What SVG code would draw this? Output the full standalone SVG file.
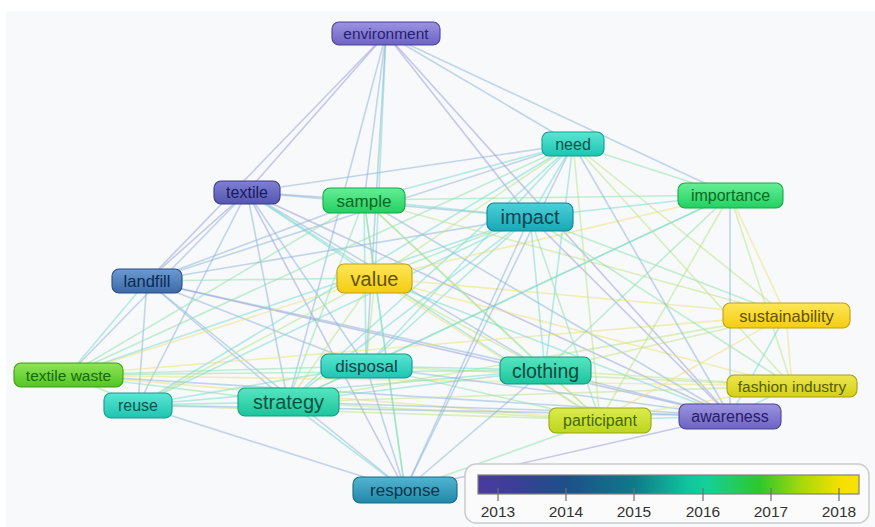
<svg xmlns="http://www.w3.org/2000/svg" width="875" height="527" viewBox="0 0 875 527">
<defs>
<style>
.e line{stroke-width:1.6;stroke-linecap:round;opacity:0.5}
.P{stroke:#959ada}.B{stroke:#8ab2da}.T{stroke:#74dacf}.G{stroke:#8ae2ac}.GY{stroke:#bae482}.Y{stroke:#ede274}
.n rect{stroke-width:1.1}
.n text{font-family:"Liberation Sans",Arial,sans-serif;text-anchor:middle}
.lg text{font-family:"Liberation Sans",Arial,sans-serif;font-size:15.5px;fill:#333;text-anchor:middle}
</style>
<linearGradient id="gPur" x1="0" y1="0" x2="0" y2="1"><stop offset="0" stop-color="#9b93e0"/><stop offset="1" stop-color="#6e63c4"/></linearGradient>
<linearGradient id="gInd" x1="0" y1="0" x2="0" y2="1"><stop offset="0" stop-color="#7f80d4"/><stop offset="1" stop-color="#5456b0"/></linearGradient>
<linearGradient id="gBlu" x1="0" y1="0" x2="0" y2="1"><stop offset="0" stop-color="#6c9ad2"/><stop offset="1" stop-color="#3c6aa6"/></linearGradient>
<linearGradient id="gStl" x1="0" y1="0" x2="0" y2="1"><stop offset="0" stop-color="#52b4d0"/><stop offset="1" stop-color="#2288a8"/></linearGradient>
<linearGradient id="gCya" x1="0" y1="0" x2="0" y2="1"><stop offset="0" stop-color="#4cd0d8"/><stop offset="1" stop-color="#18a8b6"/></linearGradient>
<linearGradient id="gTea" x1="0" y1="0" x2="0" y2="1"><stop offset="0" stop-color="#5ae6d2"/><stop offset="1" stop-color="#1ec4b2"/></linearGradient>
<linearGradient id="gTgr" x1="0" y1="0" x2="0" y2="1"><stop offset="0" stop-color="#56e6c0"/><stop offset="1" stop-color="#1cc49e"/></linearGradient>
<linearGradient id="gGrn" x1="0" y1="0" x2="0" y2="1"><stop offset="0" stop-color="#66ee96"/><stop offset="1" stop-color="#22d062"/></linearGradient>
<linearGradient id="gLim" x1="0" y1="0" x2="0" y2="1"><stop offset="0" stop-color="#8ee456"/><stop offset="1" stop-color="#52c624"/></linearGradient>
<linearGradient id="gYgr" x1="0" y1="0" x2="0" y2="1"><stop offset="0" stop-color="#dcea50"/><stop offset="1" stop-color="#bcd61c"/></linearGradient>
<linearGradient id="gOlv" x1="0" y1="0" x2="0" y2="1"><stop offset="0" stop-color="#ece650"/><stop offset="1" stop-color="#d4d014"/></linearGradient>
<linearGradient id="gYel" x1="0" y1="0" x2="0" y2="1"><stop offset="0" stop-color="#fee656"/><stop offset="1" stop-color="#f4cc12"/></linearGradient>
<linearGradient id="gBar" x1="0" y1="0" x2="1" y2="0">
<stop offset="0" stop-color="#4b3a9e"/><stop offset="0.1" stop-color="#3a3f98"/><stop offset="0.23" stop-color="#1e4f88"/><stop offset="0.41" stop-color="#0e7a8a"/><stop offset="0.55" stop-color="#10c49c"/><stop offset="0.6" stop-color="#14d09a"/><stop offset="0.74" stop-color="#2ec82a"/><stop offset="0.85" stop-color="#a8d80c"/><stop offset="0.95" stop-color="#f4e000"/><stop offset="1" stop-color="#fae200"/>
</linearGradient>
</defs>
<rect x="0" y="0" width="875" height="527" fill="#ffffff"/>
<rect x="6" y="11" width="869" height="516" fill="#f8f9fa"/>
<g id="connectors" class="e">
<line class="P" x1="386" y1="34" x2="247" y2="192"/>
<line class="P" x1="386" y1="34" x2="147" y2="281"/>
<line class="B" x1="386" y1="34" x2="364" y2="200"/>
<line class="T" x1="386" y1="34" x2="375" y2="278"/>
<line class="B" x1="386" y1="34" x2="366" y2="366"/>
<line class="B" x1="386" y1="34" x2="288" y2="402"/>
<line class="P" x1="386" y1="34" x2="530" y2="217"/>
<line class="B" x1="386" y1="34" x2="573" y2="144"/>
<line class="B" x1="386" y1="34" x2="730" y2="195"/>
<line class="P" x1="386" y1="34" x2="730" y2="416"/>
<line class="B" x1="247" y1="192" x2="364" y2="200"/>
<line class="B" x1="247" y1="192" x2="573" y2="144"/>
<line class="B" x1="247" y1="192" x2="530" y2="217"/>
<line class="P" x1="247" y1="192" x2="147" y2="281"/>
<line class="B" x1="247" y1="192" x2="68" y2="375"/>
<line class="B" x1="247" y1="192" x2="138" y2="405"/>
<line class="B" x1="247" y1="192" x2="288" y2="402"/>
<line class="B" x1="247" y1="192" x2="366" y2="366"/>
<line class="T" x1="247" y1="192" x2="375" y2="278"/>
<line class="B" x1="247" y1="192" x2="545" y2="370"/>
<line class="P" x1="247" y1="192" x2="730" y2="416"/>
<line class="P" x1="247" y1="192" x2="405" y2="490"/>
<line class="T" x1="247" y1="192" x2="600" y2="420"/>
<line class="T" x1="147" y1="281" x2="68" y2="375"/>
<line class="B" x1="147" y1="281" x2="138" y2="405"/>
<line class="B" x1="147" y1="281" x2="288" y2="402"/>
<line class="B" x1="147" y1="281" x2="366" y2="366"/>
<line class="G" x1="147" y1="281" x2="375" y2="278"/>
<line class="B" x1="147" y1="281" x2="364" y2="200"/>
<line class="B" x1="147" y1="281" x2="530" y2="217"/>
<line class="B" x1="147" y1="281" x2="573" y2="144"/>
<line class="B" x1="147" y1="281" x2="545" y2="370"/>
<line class="P" x1="147" y1="281" x2="730" y2="416"/>
<line class="B" x1="147" y1="281" x2="405" y2="490"/>
<line class="G" x1="68" y1="375" x2="138" y2="405"/>
<line class="G" x1="68" y1="375" x2="288" y2="402"/>
<line class="G" x1="68" y1="375" x2="366" y2="366"/>
<line class="G" x1="68" y1="375" x2="545" y2="370"/>
<line class="Y" x1="68" y1="375" x2="375" y2="278"/>
<line class="G" x1="68" y1="375" x2="364" y2="200"/>
<line class="T" x1="68" y1="375" x2="530" y2="217"/>
<line class="G" x1="68" y1="375" x2="573" y2="144"/>
<line class="Y" x1="68" y1="375" x2="600" y2="420"/>
<line class="Y" x1="68" y1="375" x2="792" y2="386"/>
<line class="B" x1="68" y1="375" x2="730" y2="416"/>
<line class="Y" x1="68" y1="375" x2="786" y2="315"/>
<line class="T" x1="138" y1="405" x2="288" y2="402"/>
<line class="T" x1="138" y1="405" x2="366" y2="366"/>
<line class="T" x1="138" y1="405" x2="545" y2="370"/>
<line class="B" x1="138" y1="405" x2="405" y2="490"/>
<line class="T" x1="138" y1="405" x2="530" y2="217"/>
<line class="T" x1="138" y1="405" x2="573" y2="144"/>
<line class="GY" x1="138" y1="405" x2="375" y2="278"/>
<line class="GY" x1="138" y1="405" x2="600" y2="420"/>
<line class="B" x1="138" y1="405" x2="730" y2="416"/>
<line class="T" x1="288" y1="402" x2="366" y2="366"/>
<line class="T" x1="288" y1="402" x2="545" y2="370"/>
<line class="GY" x1="288" y1="402" x2="375" y2="278"/>
<line class="G" x1="288" y1="402" x2="364" y2="200"/>
<line class="T" x1="288" y1="402" x2="530" y2="217"/>
<line class="T" x1="288" y1="402" x2="573" y2="144"/>
<line class="T" x1="288" y1="402" x2="405" y2="490"/>
<line class="GY" x1="288" y1="402" x2="600" y2="420"/>
<line class="B" x1="288" y1="402" x2="730" y2="416"/>
<line class="GY" x1="288" y1="402" x2="792" y2="386"/>
<line class="GY" x1="288" y1="402" x2="786" y2="315"/>
<line class="G" x1="288" y1="402" x2="730" y2="195"/>
<line class="GY" x1="366" y1="366" x2="375" y2="278"/>
<line class="T" x1="366" y1="366" x2="364" y2="200"/>
<line class="T" x1="366" y1="366" x2="530" y2="217"/>
<line class="T" x1="366" y1="366" x2="573" y2="144"/>
<line class="T" x1="366" y1="366" x2="545" y2="370"/>
<line class="B" x1="366" y1="366" x2="405" y2="490"/>
<line class="G" x1="366" y1="366" x2="600" y2="420"/>
<line class="B" x1="366" y1="366" x2="730" y2="416"/>
<line class="GY" x1="366" y1="366" x2="792" y2="386"/>
<line class="T" x1="366" y1="366" x2="730" y2="195"/>
<line class="GY" x1="364" y1="200" x2="375" y2="278"/>
<line class="T" x1="364" y1="200" x2="530" y2="217"/>
<line class="T" x1="364" y1="200" x2="573" y2="144"/>
<line class="G" x1="364" y1="200" x2="730" y2="195"/>
<line class="G" x1="364" y1="200" x2="545" y2="370"/>
<line class="GY" x1="364" y1="200" x2="600" y2="420"/>
<line class="T" x1="364" y1="200" x2="405" y2="490"/>
<line class="GY" x1="364" y1="200" x2="786" y2="315"/>
<line class="B" x1="364" y1="200" x2="730" y2="416"/>
<line class="G" x1="375" y1="278" x2="530" y2="217"/>
<line class="GY" x1="375" y1="278" x2="573" y2="144"/>
<line class="GY" x1="375" y1="278" x2="545" y2="370"/>
<line class="Y" x1="375" y1="278" x2="786" y2="315"/>
<line class="Y" x1="375" y1="278" x2="792" y2="386"/>
<line class="Y" x1="375" y1="278" x2="600" y2="420"/>
<line class="T" x1="375" y1="278" x2="730" y2="416"/>
<line class="Y" x1="375" y1="278" x2="730" y2="195"/>
<line class="G" x1="375" y1="278" x2="405" y2="490"/>
<line class="T" x1="530" y1="217" x2="573" y2="144"/>
<line class="T" x1="530" y1="217" x2="730" y2="195"/>
<line class="T" x1="530" y1="217" x2="545" y2="370"/>
<line class="B" x1="530" y1="217" x2="405" y2="490"/>
<line class="G" x1="530" y1="217" x2="600" y2="420"/>
<line class="P" x1="530" y1="217" x2="730" y2="416"/>
<line class="G" x1="530" y1="217" x2="786" y2="315"/>
<line class="G" x1="530" y1="217" x2="792" y2="386"/>
<line class="G" x1="573" y1="144" x2="730" y2="195"/>
<line class="T" x1="573" y1="144" x2="545" y2="370"/>
<line class="GY" x1="573" y1="144" x2="786" y2="315"/>
<line class="GY" x1="573" y1="144" x2="792" y2="386"/>
<line class="B" x1="573" y1="144" x2="730" y2="416"/>
<line class="GY" x1="573" y1="144" x2="600" y2="420"/>
<line class="B" x1="573" y1="144" x2="405" y2="490"/>
<line class="G" x1="730" y1="195" x2="545" y2="370"/>
<line class="Y" x1="730" y1="195" x2="786" y2="315"/>
<line class="GY" x1="730" y1="195" x2="792" y2="386"/>
<line class="B" x1="730" y1="195" x2="730" y2="416"/>
<line class="GY" x1="730" y1="195" x2="600" y2="420"/>
<line class="GY" x1="545" y1="370" x2="600" y2="420"/>
<line class="B" x1="545" y1="370" x2="730" y2="416"/>
<line class="GY" x1="545" y1="370" x2="792" y2="386"/>
<line class="GY" x1="545" y1="370" x2="786" y2="315"/>
<line class="B" x1="545" y1="370" x2="405" y2="490"/>
<line class="Y" x1="786" y1="315" x2="792" y2="386"/>
<line class="T" x1="786" y1="315" x2="730" y2="416"/>
<line class="Y" x1="786" y1="315" x2="600" y2="420"/>
<line class="T" x1="792" y1="386" x2="730" y2="416"/>
<line class="Y" x1="792" y1="386" x2="600" y2="420"/>
<line class="T" x1="600" y1="420" x2="730" y2="416"/>
<line class="P" x1="405" y1="490" x2="730" y2="416"/>
<line class="G" x1="405" y1="490" x2="600" y2="420"/>
</g>
<g id="node-environment" class="n"><rect x="332" y="22" width="108" height="23" rx="7" fill="url(#gPur)" stroke="#4c4296"/><text x="386" y="39" font-size="15.5" fill="#261f70">environment</text></g>
<g id="node-textile" class="n"><rect x="214" y="181" width="66" height="23" rx="7" fill="url(#gInd)" stroke="#3a3b8c"/><text x="247" y="198" font-size="16" fill="#18195e">textile</text></g>
<g id="node-sample" class="n"><rect x="323" y="188" width="82" height="25" rx="7" fill="url(#gGrn)" stroke="#14a848"/><text x="364" y="206.5" font-size="17" fill="#086424">sample</text></g>
<g id="node-need" class="n"><rect x="542" y="132" width="62" height="24" rx="7" fill="url(#gTea)" stroke="#10a090"/><text x="573" y="149.5" font-size="16" fill="#08544c">need</text></g>
<g id="node-importance" class="n"><rect x="678" y="183" width="105" height="25" rx="7" fill="url(#gGrn)" stroke="#18aa40"/><text x="730.5" y="201" font-size="16" fill="#086a1e">importance</text></g>
<g id="node-impact" class="n"><rect x="487" y="203" width="86" height="28" rx="7" fill="url(#gCya)" stroke="#0e8494"/><text x="530" y="224" font-size="20" fill="#084650">impact</text></g>
<g id="node-value" class="n"><rect x="337" y="264" width="75" height="29" rx="7" fill="url(#gYel)" stroke="#c0a014"/><text x="374.5" y="285.5" font-size="20" fill="#625200">value</text></g>
<g id="node-landfill" class="n"><rect x="112" y="269" width="70" height="24" rx="7" fill="url(#gBlu)" stroke="#2a4c82"/><text x="147" y="287" font-size="16.5" fill="#0c2a54">landfill</text></g>
<g id="node-sustainability" class="n"><rect x="723" y="303" width="127" height="25" rx="7" fill="url(#gYel)" stroke="#c0a014"/><text x="786.5" y="321.5" font-size="16.5" fill="#625200">sustainability</text></g>
<g id="node-textile-waste" class="n"><rect x="14" y="363" width="109" height="24" rx="7" fill="url(#gLim)" stroke="#3e9e12"/><text x="68.5" y="380.5" font-size="15.5" fill="#166a08">textile waste</text></g>
<g id="node-reuse" class="n"><rect x="104" y="393" width="68" height="25" rx="7" fill="url(#gTea)" stroke="#10a090"/><text x="138" y="411" font-size="16" fill="#08544c">reuse</text></g>
<g id="node-strategy" class="n"><rect x="238" y="388" width="101" height="28" rx="7" fill="url(#gTgr)" stroke="#10a07c"/><text x="288.5" y="408.5" font-size="20" fill="#08543c">strategy</text></g>
<g id="node-disposal" class="n"><rect x="321" y="354" width="91" height="24" rx="7" fill="url(#gTea)" stroke="#109888"/><text x="366.5" y="372" font-size="17" fill="#084646">disposal</text></g>
<g id="node-clothing" class="n"><rect x="500" y="357" width="91" height="27" rx="7" fill="url(#gTgr)" stroke="#109880"/><text x="545.5" y="377.5" font-size="19.5" fill="#084a3e">clothing</text></g>
<g id="node-fashion-industry" class="n"><rect x="727" y="375" width="130" height="22" rx="7" fill="url(#gOlv)" stroke="#a8a010"/><text x="792" y="391.5" font-size="15.5" fill="#545e00">fashion industry</text></g>
<g id="node-participant" class="n"><rect x="549" y="408" width="102" height="25" rx="7" fill="url(#gYgr)" stroke="#98aa10"/><text x="600" y="426" font-size="16" fill="#446a00">participant</text></g>
<g id="node-awareness" class="n"><rect x="679" y="404" width="102" height="25" rx="7" fill="url(#gPur)" stroke="#4c4296"/><text x="730" y="422" font-size="16" fill="#261c68">awareness</text></g>
<g id="node-response" class="n"><rect x="353" y="477" width="104" height="26" rx="7" fill="url(#gStl)" stroke="#186a88"/><text x="405" y="496" font-size="17" fill="#08364a">response</text></g>
<g id="legend" class="lg">
<rect x="465" y="464" width="404" height="59" rx="11" fill="#fbfbfb" stroke="#cccccc" stroke-width="1.5"/>
<rect x="478" y="475" width="381" height="19" fill="url(#gBar)" stroke="#808080" stroke-width="1.2"/>
<g stroke="#707070" stroke-width="1.2">
<line x1="498" y1="488" x2="498" y2="501"/><line x1="566" y1="488" x2="566" y2="501"/><line x1="634" y1="488" x2="634" y2="501"/><line x1="703" y1="488" x2="703" y2="501"/><line x1="771" y1="488" x2="771" y2="501"/><line x1="839" y1="488" x2="839" y2="501"/>
</g>
<text x="498" y="517">2013</text><text x="566" y="517">2014</text><text x="634" y="517">2015</text><text x="703" y="517">2016</text><text x="771" y="517">2017</text><text x="839" y="517">2018</text>
</g>
</svg>
